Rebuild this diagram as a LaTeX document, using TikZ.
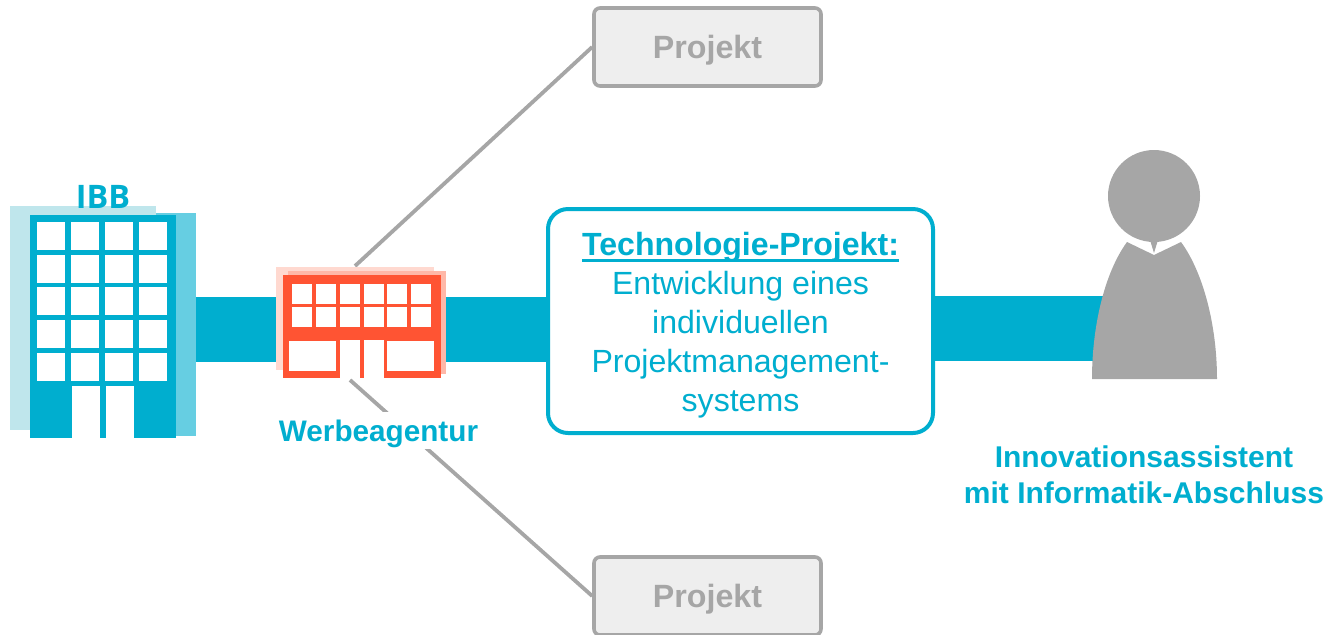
\documentclass[tikz,border=0pt]{standalone}
\usepackage{fontspec}
\setmainfont{Liberation Sans}
\newfontfamily\ibbfont{Open Sans}
\definecolor{teal}{HTML}{00AECF}
\definecolor{tealmid}{HTML}{66CEE2}
\definecolor{teallight}{HTML}{BFE6EC}
\definecolor{tomato}{HTML}{FF5433}
\definecolor{tomatomid}{HTML}{FFB8A8}
\definecolor{tomatolight}{HTML}{FFD9D0}
\definecolor{greyline}{HTML}{A6A6A6}
\definecolor{greyfill}{HTML}{EEEEEE}
\tikzset{
  x=0.5pt,y=-0.5pt,
  band/.style={draw=teal,line width=32.5pt},
  link/.style={draw=greyline,line width=1.9pt},
  projbox/.style={draw=greyline,fill=greyfill,line width=1.8pt,rounded corners=3pt,minimum width=113.5pt,minimum height=39pt,inner sep=0pt,text=greyline,font=\fontsize{16.1}{18}\selectfont\bfseries},
  techbox/.style={draw=teal,fill=white,line width=2pt,rounded corners=10pt,minimum width=192.5pt,minimum height=112pt,inner sep=0pt},
  techtext/.style={text=teal,align=center,inner sep=0pt,font=\fontsize{16.05}{19.5}\selectfont},
  caption/.style={text=teal,align=center,inner sep=0pt,font=\fontsize{15}{18}\selectfont\bfseries},
}
\newcommand{\pane}[4]{\fill[white] (#1,#2) rectangle (#3,#4);}
\newcommand{\thickul}[1]{\setbox0\hbox{#1}\rlap{\vrule width\wd0 height -1.9pt depth 3.3pt}\box0}
\newcommand{\projtext}{\raisebox{0pt}[11.4pt][0pt]{Projekt}}
\begin{document}
\begin{tikzpicture}
\useasboundingbox (0,0) rectangle (1328,634);
% anchors for connectors
\coordinate (ibbR) at (196,329.5);
\coordinate (agL) at (276,329.5);
\coordinate (agR) at (446,329);
\coordinate (techL) at (548,329);
\coordinate (techR) at (934,328.5);
\coordinate (persL) at (1105,328.5);
\coordinate (agTop) at (355,266);
\coordinate (agBot) at (350,380);
% project boxes
\node[projbox] (p1) at (707.5,47) {\projtext};
\node[projbox] (p2) at (707.5,596) {\projtext};
% connectors
\draw[link] (agTop) -- (p1.west);
\draw[link] (agBot) -- (p2.west);
\draw[band] (ibbR) -- (agL);
\draw[band] (agR) -- (techL);
\draw[band] (techR) -- (persL);
% IBB building
\fill[teallight] (10,206) rectangle (156,430);
\fill[tealmid] (156,213) rectangle (196,436);
\fill[teal] (30,215) rectangle (176,438);
\foreach \xa/\xb in {37/65,71/99,105/133,139/167}
  \foreach \ya/\yb in {222/250,255/283,287/315,320/348,353/381}
    {\pane{\xa}{\ya}{\xb}{\yb}}
\pane{72}{386}{100}{438}
\pane{106}{386}{134}{438}
\node[text=teal,inner sep=0pt,font=\ibbfont\fontsize{16.2}{20}\selectfont\bfseries] (ibb) at (103,197) {IBB};
% agency building
\fill[tomatolight] (276,267) rectangle (434,370);
\fill[tomatomid] (288,271) rectangle (446,374);
\fill[tomato] (283,275) rectangle (441,378);
\foreach \xa/\xb in {292/312,316/336,340/360,364/384,387/407,411/431}
  \foreach \ya/\yb in {284/304,307/327}
    {\pane{\xa}{\ya}{\xb}{\yb}}
\pane{289}{341}{336}{371}
\pane{387}{341}{434}{371}
\pane{340}{340}{360}{378}
\pane{364}{340}{384}{378}
\node[caption,fill=white,minimum width=103pt,minimum height=18.5pt,font=\fontsize{14.85}{18}\selectfont\bfseries] (ag) at (378.5,430) {\raisebox{0pt}[11.6pt][0pt]{Werbeagentur}};
% technology box
\node[techbox] (tech) at (740.5,321) {};
\node[techtext] (techlabel) at (740.5,325) {\thickul{\textbf{Technologie-Projekt:}}\\Entwicklung eines\\individuellen\\Projektmanagement-\\systems};
% person
\fill[greyline] (1154,196) circle (46);
\fill[greyline] (1150,240) -- (1158,240) -- (1154,253) -- cycle;
\fill[greyline] (1127,242) -- (1154,255) -- (1181,242)
  .. controls (1203,272) and (1217,325) .. (1217,379) -- (1092,379)
  .. controls (1092,325) and (1105,272) .. (1127,242) -- cycle;
\node[caption] (inno) at (1144,475) {Innovationsassistent\\mit Informatik-Abschluss};
\end{tikzpicture}
\end{document}
